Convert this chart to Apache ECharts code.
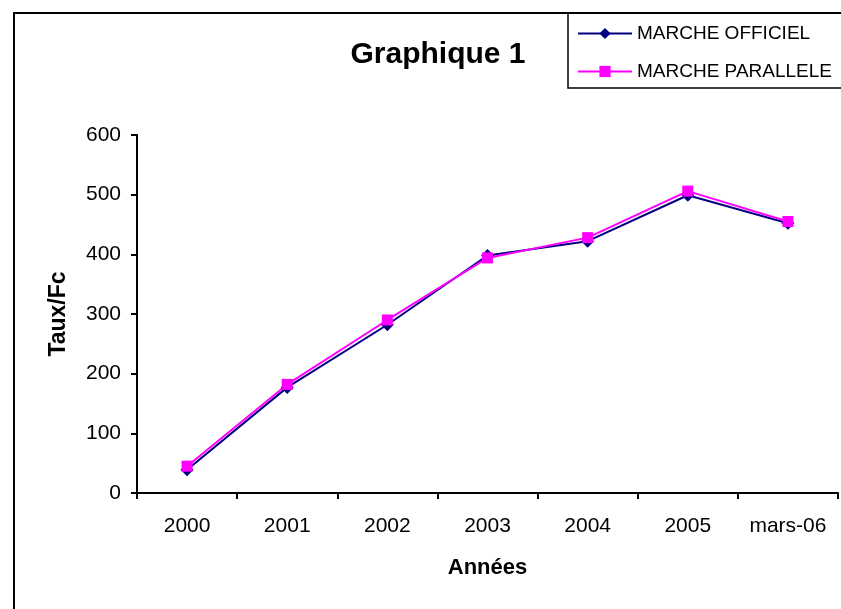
<!DOCTYPE html>
<html>
<head>
<meta charset="utf-8">
<script src="https://cdn.jsdelivr.net/npm/echarts@6/dist/echarts.min.js"></script>
<style>
  html, body { margin: 0; padding: 0; background: #fff; }
  #chart { width: 841px; height: 609px; }
</style>
</head>
<body>
<div id="chart"></div>
<script>
var annees = ['2000', '2001', '2002', '2003', '2004', '2005', 'mars-06'];
var marcheOfficiel = [39, 177, 282, 398, 422, 499, 452];
var marcheParallele = [45, 182, 290, 394, 428, 506, 455];
var yTicks = { min: 0, max: 600, interval: 100 };

var police = "'Liberation Sans', Arial, sans-serif";

var option = {
    animation: false,
    backgroundColor: '#fff',
    title: {
        text: 'Graphique 1',
        left: 433,
        top: 35,
        textAlign: 'center',
        textStyle: { fontFamily: police, fontSize: 30, fontWeight: 'bold', color: '#000' }
    },
    // cadre du graphique et cadre de la légende
    graphic: [
        {
            type: 'rect', z: -1,
            shape: { x: 14, y: 13, width: 900, height: 700 },
            style: { fill: 'none', stroke: '#000', lineWidth: 2 }
        },
        {
            type: 'rect', z: -1,
            shape: { x: 568, y: 13, width: 400, height: 75 },
            style: { fill: 'none', stroke: '#000', lineWidth: 1.5 }
        }
    ],
    legend: {
        orient: 'vertical',
        left: 577,
        top: 24,
        padding: 0,
        itemWidth: 54,
        itemHeight: 14,
        itemGap: 19,
        textStyle: { fontFamily: police, fontSize: 19, color: '#000' },
        data: ['MARCHE OFFICIEL', 'MARCHE PARALLELE']
    },
    grid: { left: 137, right: 3, top: 135, bottom: 116 },
    xAxis: {
        type: 'category',
        data: annees,
        name: 'Années',
        nameLocation: 'middle',
        nameGap: 64,
        nameTextStyle: { fontFamily: police, fontSize: 22, fontWeight: 'bold', color: '#000' },
        axisLine: { show: true, lineStyle: { color: '#000', width: 2 } },
        axisTick: { show: true, length: 6, lineStyle: { color: '#000', width: 2 } },
        axisLabel: { margin: 23, fontFamily: police, fontSize: 21, color: '#000' },
        splitLine: { show: false }
    },
    yAxis: {
        type: 'value',
        min: yTicks.min,
        max: yTicks.max,
        interval: yTicks.interval,
        name: 'Taux/Fc',
        nameLocation: 'middle',
        nameGap: 67,
        nameRotate: 90,
        nameTextStyle: { fontFamily: police, fontSize: 23, fontWeight: 'bold', color: '#000' },
        axisLine: { show: true, lineStyle: { color: '#000', width: 2 } },
        axisTick: { show: true, length: 6, lineStyle: { color: '#000', width: 2 } },
        axisLabel: { margin: 16, fontFamily: police, fontSize: 21, color: '#000' },
        splitLine: { show: false }
    },
    series: [
        {
            name: 'MARCHE OFFICIEL',
            type: 'line',
            data: marcheOfficiel,
            symbol: 'diamond',
            symbolSize: 13,
            lineStyle: { color: '#000080', width: 2 },
            itemStyle: { color: '#000080' }
        },
        {
            name: 'MARCHE PARALLELE',
            type: 'line',
            data: marcheParallele,
            symbol: 'rect',
            symbolSize: 11,
            lineStyle: { color: '#ff00ff', width: 2 },
            itemStyle: { color: '#ff00ff' }
        }
    ]
};

var monGraphique = echarts.init(document.getElementById('chart'));
monGraphique.setOption(option);
</script>
</body>
</html>
